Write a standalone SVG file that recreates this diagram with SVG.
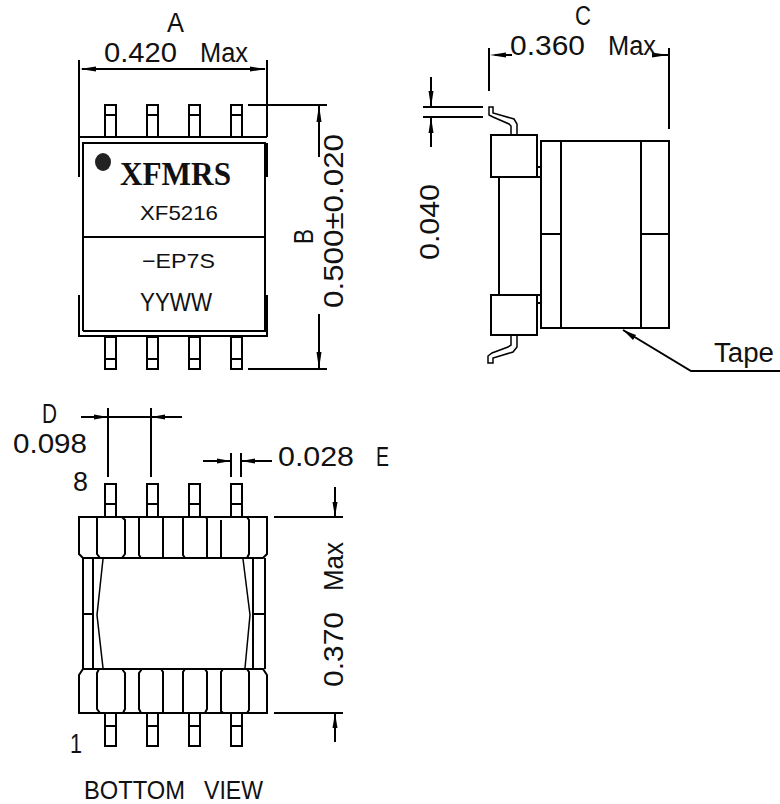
<svg xmlns="http://www.w3.org/2000/svg" width="780" height="804" viewBox="0 0 780 804">
<defs>
<style>
.l{fill:none;stroke:#000;stroke-width:2}
.t{fill:none;stroke:#000;stroke-width:1.5}
.a{fill:#000;stroke:none}
text{font-family:"Liberation Sans",Arial,sans-serif;font-weight:400;fill:#111;font-size:27px}
</style>
<g id="p"><path class="l" d="M0 0h11v32H0zM0 10h11"/></g>
<g id="q"><path class="l" d="M0 0h11v33H0zM0 20h11"/></g>
</defs>
<rect width="780" height="804" fill="#fff"/>
<g id="top-view">
<path class="l" d="M79 177V137H267"/>
<path class="l" d="M83 331V143H265V331H83M83 237H265"/>
<path class="l" d="M79 295V336H267V295"/>
<path d="M264 143h4v34h-4zM264 295h4v37h-4z" fill="#000"/>
<use href="#p" x="105" y="105"/><use href="#p" x="147" y="105"/><use href="#p" x="189" y="105"/><use href="#p" x="231" y="105"/>
<g transform="translate(0,474) scale(1,-1)">
<use href="#p" x="105" y="105"/><use href="#p" x="147" y="105"/><use href="#p" x="189" y="105"/><use href="#p" x="231" y="105"/>
</g>
<ellipse cx="103" cy="162" rx="8" ry="9" fill="#222"/>
<text x="120" y="185" style="font-family:'Liberation Serif',serif;font-weight:700;font-size:33px" textLength="111" lengthAdjust="spacingAndGlyphs">XFMRS</text>
<text x="140" y="220" style="font-size:21px" textLength="78" lengthAdjust="spacingAndGlyphs">XF5216</text>
<text x="142" y="268" style="font-size:21px" textLength="73" lengthAdjust="spacingAndGlyphs">−EP7S</text>
<text x="140" y="311" style="font-size:25px" textLength="72" lengthAdjust="spacingAndGlyphs">YYWW</text>
</g>
<g id="side-view">
<rect class="l" x="491" y="135" width="46" height="42"/>
<rect class="l" x="491" y="295" width="46" height="40"/>
<path class="l" d="M499 177V295"/>
<rect class="l" x="541" y="141" width="128" height="187"/>
<path class="l" d="M561 141V328M641 141V328M541 234H561M641 234H669"/>
<path class="l" d="M537 167H541M537 177H541M537 295H541M537 303H541"/>
<path class="t" d="M511 135V126L509 124 493 117 489 115V107H493V113L514 119 517 124V135"/>
<path class="t" d="M511 335V345L508 347 492 353 488 356V363H493V358L513 352 517 347V335"/>
</g>
<g id="bottom-view">
<path class="l" d="M79 517H267V554L263 558H83L79 554Z"/>
<path class="l" d="M79 713H267V675L263 669H83L79 675Z"/>
<path class="l" d="M97 517V554L100 558M122 517L125 520V554L122 558M139 517V555L141 558M163 517V558M183 517V555L185 558M206 517L207 519V558M221 520V558M247 517L249 520V554L247 558"/>
<path class="l" d="M99 669L97 673V709L100 713M122 669L125 673V709L123 713M142 669L139 673V709L141 713M161 669L163 672V713M185 669L183 672V713M205 669L207 672V709L205 713M223 669L221 672V711L223 713M247 669L249 672V710L247 713"/>
<path class="l" d="M83 558V669M93 558V669M253 558V669M265 558V669M83 614H93M253 614H265"/>
<path class="t" d="M103 559L97 615 103 668M243 559L250 615 245 668"/>
<use href="#q" x="105" y="484"/><use href="#q" x="147" y="484"/><use href="#q" x="189" y="484"/><use href="#q" x="231" y="484"/>
<g transform="translate(0,1230) scale(1,-1)">
<use href="#q" x="105" y="484"/><use href="#q" x="147" y="484"/><use href="#q" x="189" y="484"/><use href="#q" x="231" y="484"/>
</g>
</g>
<g id="connectors">
<path class="l" d="M79 60V137M267 60V137M82 69H265M248 105H327M248 369H327"/>
<path class="l" d="M319 105V157M319 314V369"/>
<path class="l" d="M489 48V91M669 48V129M495 55H512M652 55H669M423 107H483M423 117H483M431 77V107M431 117V147"/>
<path class="l" d="M623 330L691 371H780"/>
<path class="l" d="M108 408V477M151 408V477M81 417H182M203 461H231M241 461H272M231 453V477M241 453V477M274 517H343M274 713H343M335 487V517M335 713V742"/>
<g class="a">
<path d="M80 69L96 66.500V71.500Z"/><path d="M266 69L250 66.500V71.500Z"/>
<path d="M319 105L316.500 122H321.500Z"/><path d="M319 369L316.500 352H321.500Z"/>
<path d="M490 55L506 52.500V57.500Z"/><path d="M668 55L652 52.500V57.500Z"/>
<path d="M431 107L428.500 91H433.500Z"/><path d="M431 117L428.500 133H433.500Z"/>
<path d="M623 330L636 335 633 340Z"/>
<path d="M108 417L94 414.500V419.500Z"/><path d="M151 417L165 414.500V419.500Z"/>
<path d="M231 461L217 458.500V463.500Z"/><path d="M241 461L255 458.500V463.500Z"/>
<path d="M335 517L332.500 502H337.500Z"/><path d="M335 713L332.500 728H337.500Z"/>
</g>
</g>
<g id="labels">
<text x="167" y="32" textLength="17" lengthAdjust="spacingAndGlyphs">A</text>
<text y="62"><tspan x="104" textLength="73" lengthAdjust="spacingAndGlyphs">0.420</tspan> <tspan x="200" textLength="48" lengthAdjust="spacingAndGlyphs">Max</tspan></text>
<text x="575" y="25" textLength="16" lengthAdjust="spacingAndGlyphs">C</text>
<text y="55"><tspan x="510" textLength="75" lengthAdjust="spacingAndGlyphs">0.360</tspan> <tspan x="608" textLength="48" lengthAdjust="spacingAndGlyphs">Max</tspan></text>
<text transform="translate(343,308) rotate(-90)" textLength="174" lengthAdjust="spacingAndGlyphs">0.500±0.020</text>
<text transform="translate(313,244) rotate(-90)" textLength="15" lengthAdjust="spacingAndGlyphs">B</text>
<text transform="translate(439,260) rotate(-90)" textLength="76" lengthAdjust="spacingAndGlyphs">0.040</text>
<text x="714" y="362" textLength="60" lengthAdjust="spacingAndGlyphs">Tape</text>
<text x="42" y="423" textLength="15" lengthAdjust="spacingAndGlyphs">D</text>
<text x="13" y="453" textLength="74" lengthAdjust="spacingAndGlyphs">0.098</text>
<text x="73" y="491" textLength="15" lengthAdjust="spacingAndGlyphs">8</text>
<text x="278" y="466" textLength="76" lengthAdjust="spacingAndGlyphs">0.028</text>
<text x="376" y="466" textLength="13" lengthAdjust="spacingAndGlyphs">E</text>
<text transform="translate(343,591) rotate(-90)" textLength="49" lengthAdjust="spacingAndGlyphs">Max</text>
<text transform="translate(343,687) rotate(-90)" textLength="75" lengthAdjust="spacingAndGlyphs">0.370</text>
<text x="70" y="753" textLength="12" lengthAdjust="spacingAndGlyphs">1</text>
<text y="798.800" style="font-size:25px"><tspan x="84" textLength="101" lengthAdjust="spacingAndGlyphs">BOTTOM</tspan> <tspan x="204" textLength="59" lengthAdjust="spacingAndGlyphs">VIEW</tspan></text>
</g>
</svg>
